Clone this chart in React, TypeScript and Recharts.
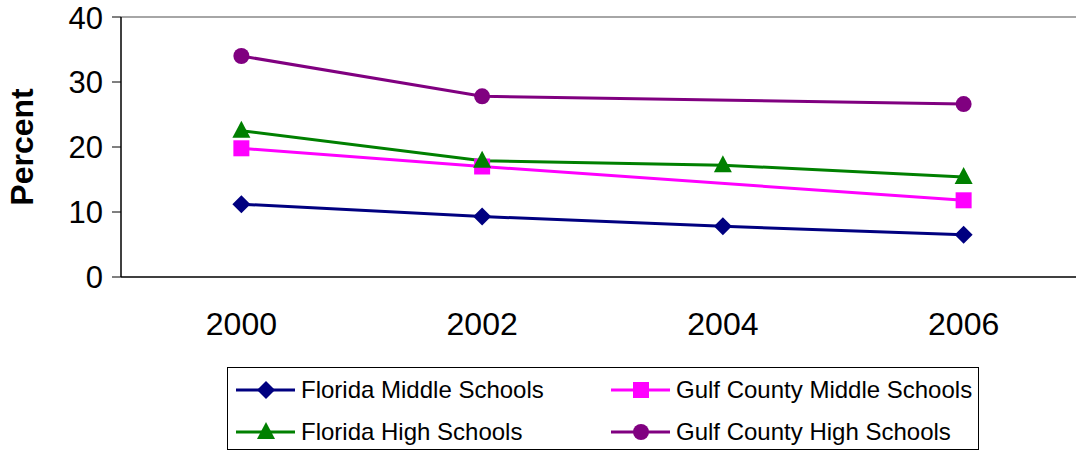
import { LineChart, Line, XAxis, YAxis, ReferenceLine } from "recharts";

const years = ["2000", "2002", "2004", "2006"];
const floridaMiddle = [11.2, 9.3, 7.8, 6.5];
const gulfMiddle = [19.8, 17.0, null, 11.8];
const floridaHigh = [22.5, 17.9, 17.2, 15.4];
const gulfHigh = [34.0, 27.8, null, 26.6];
const yTicks = [0, 10, 20, 30, 40];

const series = [
  { key: "flMiddle", name: "Florida Middle Schools", color: "#000080", shape: "diamond" },
  { key: "gulfMiddle", name: "Gulf County Middle Schools", color: "#FF00FF", shape: "square" },
  { key: "flHigh", name: "Florida High Schools", color: "#008000", shape: "triangle" },
  { key: "gulfHigh", name: "Gulf County High Schools", color: "#800080", shape: "circle" },
];

const data = years.map((year, i) => ({
  idx: i,
  year,
  flMiddle: floridaMiddle[i],
  gulfMiddle: gulfMiddle[i],
  flHigh: floridaHigh[i],
  gulfHigh: gulfHigh[i],
}));

const FONT = "'Liberation Sans', Arial, sans-serif";

const Marker = ({ cx, cy, shape, color }: any) => {
  if (cx == null || cy == null) return null;
  if (shape === "diamond") {
    return (
      <polygon
        points={`${cx},${cy - 9} ${cx + 9},${cy} ${cx},${cy + 9} ${cx - 9},${cy}`}
        fill={color}
      />
    );
  }
  if (shape === "square") {
    return <rect x={cx - 8} y={cy - 8} width={16} height={16} fill={color} />;
  }
  if (shape === "triangle") {
    return (
      <polygon
        points={`${cx},${cy - 10} ${cx + 9},${cy + 7} ${cx - 9},${cy + 7}`}
        fill={color}
      />
    );
  }
  return <circle cx={cx} cy={cy} r={8} fill={color} />;
};

const YLabel = ({ viewBox }: any) => {
  const x = viewBox.x + 33;
  const y = viewBox.y + viewBox.height / 2;
  return (
    <text
      x={x}
      y={y}
      transform={`rotate(-90, ${x}, ${y})`}
      textAnchor="middle"
      fontFamily={FONT}
      fontWeight="bold"
      fontSize={32}
      fill="#000"
    >
      Percent
    </text>
  );
};

const LegendBox = () => (
  <div
    style={{
      position: "absolute",
      left: 227,
      top: 367,
      width: 752,
      height: 83,
      border: "1px solid #000",
      boxSizing: "border-box",
      display: "grid",
      gridTemplateColumns: "375px 375px",
      gridTemplateRows: "42px 42px",
      paddingTop: 1,
      fontFamily: FONT,
      fontSize: 24,
    }}
  >
    {series.map((s) => (
      <div key={s.key} style={{ display: "flex", alignItems: "center", paddingLeft: 7 }}>
        <svg width={62} height={24} style={{ marginRight: 4 }}>
          <line x1={1} y1={12} x2={60} y2={12} stroke={s.color} strokeWidth={3} />
          <Marker cx={31} cy={12} shape={s.shape} color={s.color} />
        </svg>
        <span style={{ whiteSpace: "nowrap" }}>{s.name}</span>
      </div>
    ))}
  </div>
);

const App = () => {
  return (
    <div
      style={{
        position: "absolute",
        left: 0,
        top: 0,
        width: 1076,
        height: 453,
        overflow: "hidden",
        background: "#fff",
      }}
    >
      <LineChart
        width={1090}
        height={453}
        data={data}
        margin={{ top: 17, right: 6, left: 0, bottom: 115 }}
      >
        <XAxis
          xAxisId="bound"
          dataKey="idx"
          type="number"
          domain={[-0.5, 3.5]}
          ticks={[-0.5, 0.5, 1.5, 2.5, 3.5]}
          allowDataOverflow
          tick={false}
          tickSize={10}
          height={1}
          axisLine={{ stroke: "#000", strokeWidth: 1.5 }}
          tickLine={{ stroke: "#000" }}
        />
        <XAxis
          xAxisId="main"
          dataKey="idx"
          type="number"
          domain={[-0.5, 3.5]}
          ticks={[0, 1, 2, 3]}
          tickFormatter={(i: number) => years[i]}
          axisLine={false}
          tickLine={false}
          tickSize={0}
          tickMargin={34}
          height={60}
          tick={{ fill: "#000", fontSize: 32, fontFamily: FONT }}
        />
        <YAxis
          domain={[0, 40]}
          ticks={yTicks}
          width={121}
          tickSize={9}
          tickMargin={9}
          axisLine={{ stroke: "#000", strokeWidth: 1.5 }}
          tickLine={{ stroke: "#000" }}
          tick={{ fill: "#000", fontSize: 31, fontFamily: FONT }}
          label={<YLabel />}
        />
        <ReferenceLine xAxisId="main" y={40} stroke="#888" strokeWidth={1.5} />
        {series.map((s) => (
          <Line
            key={s.key}
            xAxisId="main"
            dataKey={s.key}
            name={s.name}
            stroke={s.color}
            strokeWidth={3}
            connectNulls
            isAnimationActive={false}
            dot={(p: any) => (
              <Marker key={`${s.key}-${p.index}`} cx={p.cx} cy={p.cy} shape={s.shape} color={s.color} />
            )}
            activeDot={false}
          />
        ))}
      </LineChart>
      <LegendBox />
    </div>
  );
};

export default App;
